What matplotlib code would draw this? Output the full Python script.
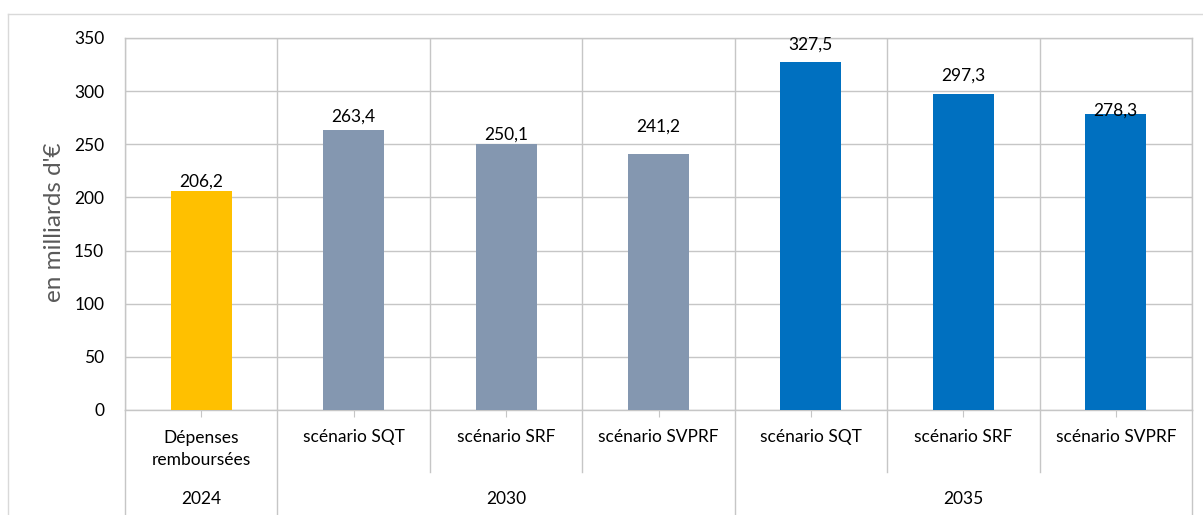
import matplotlib
matplotlib.use('Agg')
import matplotlib.pyplot as plt
import numpy as np

# chart data
scenarios = ['Dépenses\nremboursées', 'scénario SQT', 'scénario SRF', 'scénario SVPRF',
             'scénario SQT', 'scénario SRF', 'scénario SVPRF']
values = [206.2, 263.4, 250.1, 241.2, 327.5, 297.3, 278.3]
years = ['2024', '2030', '2035']
year_sizes = [1, 3, 3]
colors = ['#FFC000', '#8497B0', '#8497B0', '#8497B0', '#0070C0', '#0070C0', '#0070C0']
# gap (pixels) between bar top and label baseline, as placed in the original
label_gaps = [4, 8, 5, 22, 12, 13, -1]

plt.rcParams['font.family'] = ['Lato', 'DejaVu Sans']
grid_col = '#C6C6C6'

fig = plt.figure(figsize=(12.03, 5.15), dpi=100)
ax = fig.add_axes([125 / 1203, 105 / 515, 1067 / 1203, 372 / 515])

x = np.arange(len(values))
bars = ax.bar(x, values, width=0.4, color=colors, zorder=3)

ax.set_xlim(-0.5, len(values) - 0.5)
ax.set_ylim(0, 350)
ax.set_yticks(np.arange(0, 351, 50))
ax.tick_params(axis='y', length=0, pad=15, labelsize=12.5, labelcolor='#000000')
ax.grid(axis='y', color=grid_col, linewidth=1, zorder=0)

# vertical separators between categories
ax.set_xticks(x)
ax.set_xticklabels([])
ax.set_xticks(np.arange(-0.5, len(values)), minor=True)
ax.grid(axis='x', which='minor', color=grid_col, linewidth=1, zorder=0)
ax.tick_params(axis='x', which='major', length=5, color=grid_col, direction='out')
ax.tick_params(axis='x', which='minor', length=0)

for s in ax.spines.values():
    s.set_color(grid_col)
    s.set_linewidth(1)

# value labels
for b, v, g in zip(bars, values, label_gaps):
    ax.annotate(f'{v:.1f}'.replace('.', ','), (b.get_x() + b.get_width() / 2, v),
                xytext=(0, g), textcoords='offset pixels', ha='center', va='baseline',
                fontsize=12.5, color='#000000')

trans = ax.get_xaxis_transform()

# category labels
for i, lab in enumerate(scenarios):
    yy = -0.105 if '\n' in lab else -0.072
    ax.text(i, yy, lab, transform=trans, ha='center', va='center', fontsize=12.5,
            linespacing=1.45)

# separators below axis and year labels
start = 0
bounds = [-0.5]
for yr, n in zip(years, year_sizes):
    mid = start + (n - 1) / 2
    ax.text(mid, -0.238, yr, transform=trans, ha='center', va='center', fontsize=12.5)
    for k in range(1, n):
        ax.plot([start + k - 0.5] * 2, [0, -0.167], transform=trans, color=grid_col,
                linewidth=1, clip_on=False)
    start += n
    bounds.append(start - 0.5)
for bx in bounds:
    ax.plot([bx, bx], [0, -0.3], transform=trans, color=grid_col, linewidth=1, clip_on=False)

fig.text(55 / 1203, 1 - 222 / 515, "en milliards d'€", rotation=90, ha='center', va='center',
         fontsize=17.5, color='#595959')

# outer chart border
fig.add_artist(plt.Line2D([8 / 1203, 8 / 1203], [0, 1 - 14 / 515], color='#D9D9D9',
                          linewidth=1, transform=fig.transFigure))
fig.add_artist(plt.Line2D([8 / 1203, 1], [1 - 14 / 515, 1 - 14 / 515], color='#D9D9D9',
                          linewidth=1, transform=fig.transFigure))

fig.savefig('out.png', dpi=100)
